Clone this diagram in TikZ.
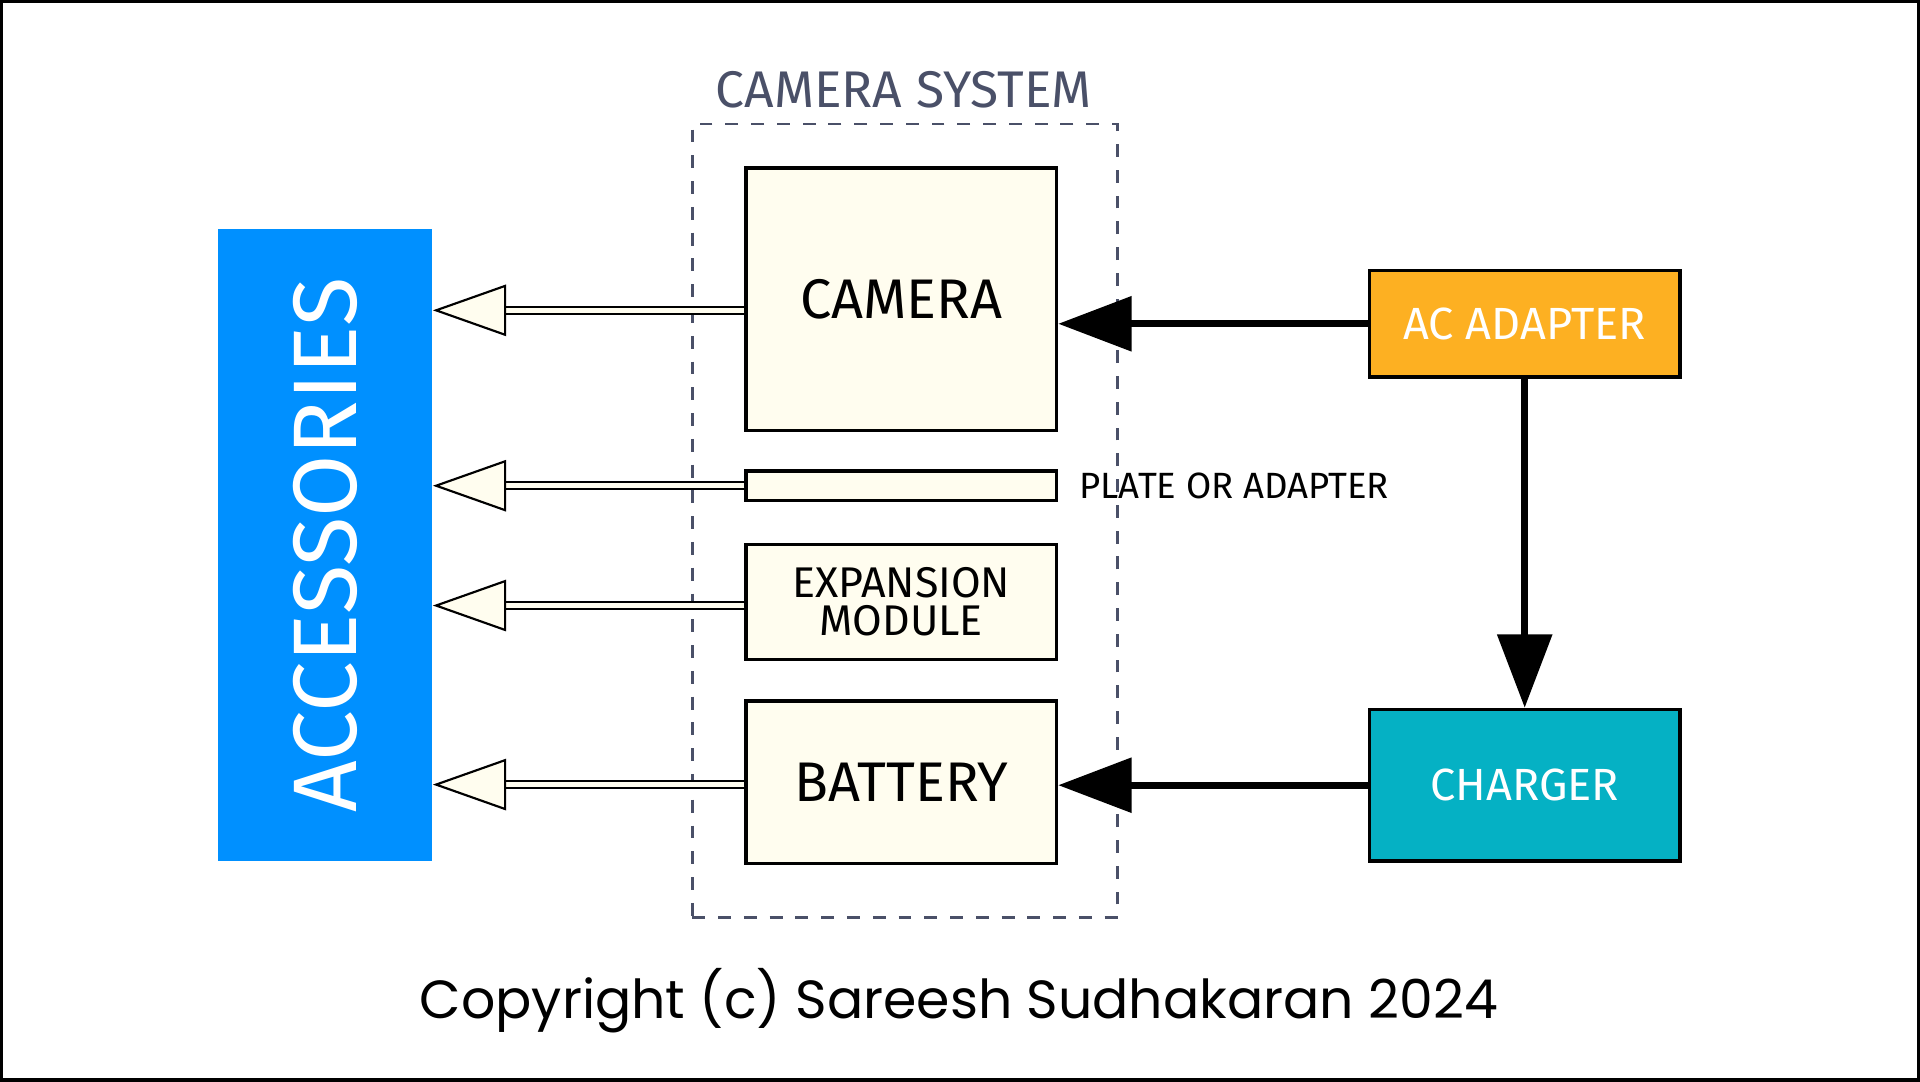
\documentclass[tikz,border=0pt]{standalone}
\usepackage{fontspec}
\setmainfont{Fira Sans}
\newfontfamily\copyfont{Poppins}
\usetikzlibrary{arrows.meta,positioning}
\definecolor{cream}{HTML}{FFFDEF}
\definecolor{accblue}{HTML}{0090FF}
\definecolor{acorange}{HTML}{FDB022}
\definecolor{chteal}{HTML}{05B1C4}
\definecolor{sysgray}{HTML}{4A5068}
\tikzset{
  part/.style={draw=black, line width=0.8pt, fill=cream, align=center, font=\fontsize{10}{11}\selectfont},
  power/.style={draw=black, line width=0.8pt, text=white, font=\fontsize{10.5}{12}\selectfont},
  mount/.style={-{Triangle[length=0.6cm, width=0.42cm, fill=cream]}, line width=0.5pt, double=cream, double distance=1.2pt},
  feed/.style={-{Triangle[length=0.6cm, width=0.44cm]}, line width=1.6pt}
}
\begin{document}
\begin{tikzpicture}[y=-1cm]
\draw[line width=0.8pt] (0,0) rectangle (15.68,8.82);

% Accessories
\node[fill=accblue, minimum width=1.75cm, minimum height=5.17cm] (acc) at (2.645,4.445) {};
\node[rotate=90, text=white, font=\fontsize{21}{24}\selectfont] at (acc.center) {ACCESSORIES};

% Camera system
\node[draw=sysgray, dashed, line width=0.6pt, minimum width=3.48cm, minimum height=6.49cm] (sys) at (7.39,4.245) {};
\node[text=sysgray, font=\fontsize{12}{14}\selectfont] (systitle) at (7.38,0.72) {CAMERA SYSTEM};

\node[part, minimum width=2.54cm, minimum height=2.15cm, font=\fontsize{13}{15}\selectfont] (camera) at (7.36,2.435) {CAMERA};
\node[part, minimum width=2.54cm, minimum height=0.24cm, inner sep=0pt] (plate) at (7.36,3.96) {};
\node[right=0.05cm of plate, font=\fontsize{8.5}{10}\selectfont] (platelbl) {PLATE OR ADAPTER};
\node[part, minimum width=2.54cm, minimum height=0.94cm] (module) at (7.36,4.91) {EXPANSION\\[-2pt]MODULE};
\node[part, minimum width=2.54cm, minimum height=1.33cm, font=\fontsize{13}{15}\selectfont] (battery) at (7.36,6.385) {BATTERY};

% Power
\node[power, fill=acorange, minimum width=2.54cm, minimum height=0.87cm] (adapter) at (12.46,2.635) {AC ADAPTER};
\node[power, fill=chteal, minimum width=2.54cm, minimum height=1.24cm] (charger) at (12.46,6.41) {CHARGER};

% Connections
\coordinate (camout) at ([yshift=-0.09cm]camera.west);
\coordinate (modout) at ([yshift=-0.03cm]module.west);
\coordinate (batout) at ([yshift=-0.02cm]battery.west);
\draw[mount] (camout) -- (acc.east |- camout);
\draw[mount] (plate.west) -- (acc.east |- plate.west);
\draw[mount] (modout) -- (acc.east |- modout);
\draw[mount] (batout) -- (acc.east |- batout);
\draw[feed] (adapter.west) -- (camera.east |- adapter.west);
\draw[feed] (adapter.south) -- (charger.north);
\draw[feed] (charger.west) -- (battery.east |- charger.west);

\node[font=\copyfont\fontsize{12.5}{14}\selectfont] (copy) at (7.83,8.17) {Copyright (c) Sareesh Sudhakaran 2024};
\end{tikzpicture}
\end{document}
